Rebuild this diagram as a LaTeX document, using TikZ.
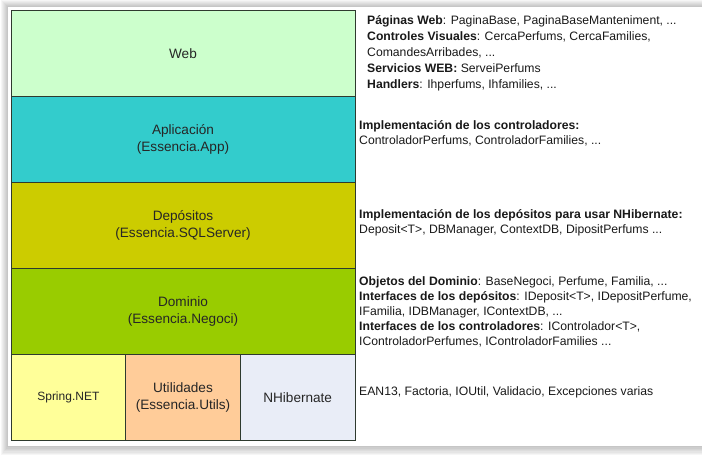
\documentclass[tikz,border=0pt]{standalone}
\usepackage{fontspec}
\setmainfont{Liberation Sans}
\usetikzlibrary{positioning}
\definecolor{ink}{HTML}{2E3A2E}
\definecolor{webgreen}{HTML}{CCFFCC}
\definecolor{appteal}{HTML}{33CCCC}
\definecolor{repoolive}{HTML}{CCCC00}
\definecolor{domgreen}{HTML}{99CC00}
\definecolor{springyellow}{HTML}{FFFF99}
\definecolor{utilorange}{HTML}{FFCC99}
\definecolor{nhlavender}{HTML}{E9EDF7}

\begin{document}
\begin{tikzpicture}[
  x=1pt, y=-1pt,
  node distance=0pt,
  layer/.style={draw=ink, line width=0.8pt, rectangle, outer sep=0pt, inner sep=0pt, minimum width=344pt, minimum height=86pt, align=center, text=black!85, font=\fontsize{13.6}{17.5}\selectfont},
  cell/.style={layer, minimum width=114.67pt},
  desc/.style={anchor=west, align=left, inner sep=0pt, text=black!90, font=\fontsize{12.2}{15}\selectfont}
]
\useasboundingbox (0,0) rectangle (702,462);
\foreach \s in {1,...,7}
  \fill[black, opacity=0.035] (8-\s, 7-\s) rectangle (702, 446+1.3*\s);
\fill[white] (8,7) rectangle (702,446);

\node[layer, fill=webgreen] (web) at (183,53.5) {Web};
\node[layer, fill=appteal, below=of web] (app) {Aplicación\\(Essencia.App)};
\node[layer, fill=repoolive, below=of app] (repo) {Depósitos\\(Essencia.SQLServer)};
\node[layer, fill=domgreen, below=of repo] (dom) {Dominio\\(Essencia.Negoci)};
\node[cell, fill=springyellow, below=of dom.south west, anchor=north west] (spring) {\fontsize{12}{17}\selectfont Spring.NET};
\node[cell, fill=utilorange, right=of spring] (utils) {Utilidades\\(Essencia.Utils)};
\node[cell, fill=nhlavender, right=of utils] (nhib) {NHibernate};

\node[desc, right=12pt of web.east, anchor=west, font=\fontsize{12.2}{16}\selectfont] (webdesc) {\textbf{Páginas Web}: PaginaBase, PaginaBaseManteniment, ...\\
\textbf{Controles Visuales}: CercaPerfums, CercaFamilies,\\
ComandesArribades, ...\\
\textbf{Servicios WEB:} ServeiPerfums\\
\textbf{Handlers}: Ihperfums, Ihfamilies, ...};
\node[desc, right=4pt of app.east, anchor=west, yshift=6pt] (appdesc) {\textbf{Implementación de los controladores:}\\
ControladorPerfums, ControladorFamilies, ...};
\node[desc, right=4pt of repo.east, anchor=west, yshift=3pt] (repodesc) {\textbf{Implementación de los depósitos para usar NHibernate:}\\
Deposit<T>, DBManager, ContextDB, DipositPerfums ...};
\node[desc, right=4pt of dom.east, anchor=west] (domdesc) {\textbf{Objetos del Dominio}: BaseNegoci, Perfume, Familia, ...\\
\textbf{Interfaces de los depósitos}: IDeposit<T>, IDepositPerfume,\\
IFamilia, IDBManager, IContextDB, ...\\
\textbf{Interfaces de los controladores}: IControlador<T>,\\
IControladorPerfumes, IControladorFamilies ...};
\node[desc, right=4pt of nhib.east, anchor=west, yshift=5pt] (utildesc) {EAN13, Factoria, IOUtil, Validacio, Excepciones varias};
\end{tikzpicture}
\end{document}
